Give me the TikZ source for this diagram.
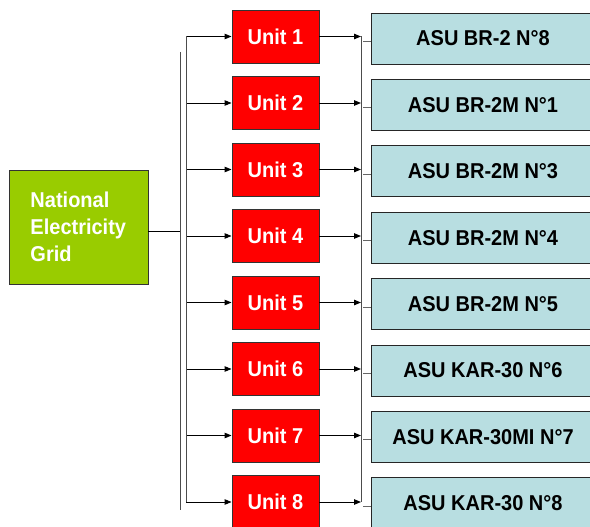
\documentclass[tikz,border=0pt]{standalone}
\usepackage{fontspec}
\setmainfont{Liberation Sans}[FakeStretch=0.93]
\usetikzlibrary{arrows.meta}
\definecolor{gridgreen}{RGB}{153,204,0}
\definecolor{asublue}{RGB}{184,222,225}

\begin{document}
\begin{tikzpicture}[x=1pt, y=-1pt, line width=0.9pt,
    every node/.style={font=\bfseries\fontsize{21.5}{26.7}\selectfont},
    >={Triangle[length=7pt,width=5.5pt]},
    unit/.style={fill=red, draw=black!80, text=white, minimum width=87pt, minimum height=53pt},
    asu/.style={fill=asublue, draw=black!85, minimum width=224pt, minimum height=51pt}]
    \useasboundingbox (0,0) rectangle (590,527);
    \clip (0,0) rectangle (590,527);
    % grid and the two buses
    \node[fill=gridgreen, draw=black!80, text=white, minimum width=139pt, minimum height=114pt,
        text width=96pt, align=left] (grid) at (78.5,227) {National\\Electricity\\Grid};
    \coordinate (feed) at (180,231);
    \coordinate (split) at (186,0);
    \coordinate (merge) at (361,0);
    \draw ([yshift=-4pt]grid.east) -- (feed);
    \draw[black!70] (180,52) -- (180,510);
    % units and their ASU
    \foreach \i/\lbl in {1/ASU BR-2 N°8, 2/ASU BR-2M N°1, 3/ASU BR-2M N°3, 4/ASU BR-2M N°4,
        5/ASU BR-2M N°5, 6/ASU KAR-30 N°6, 7/ASU KAR-30MI N°7, 8/ASU KAR-30 N°8} {
        \node[unit] (u\i) at (275.5, {36.5+(\i-1)*66.5}) {Unit \i};
        \node[asu] (a\i) at (483, {38.5+(\i-1)*66.4}) {\lbl};
        \draw[->] (split |- u\i.west) -- (u\i.west);
        \draw[->] (u\i.east) -- (merge |- u\i.east);
        \draw[black!60] ([yshift=-3pt]a\i.west) -- +(-8,0);
    }
    \draw[black!70] (split |- u1) -- (split |- u8);
    \draw[black!70] (merge |- u1) -- (merge |- u8);
\end{tikzpicture}
\end{document}
